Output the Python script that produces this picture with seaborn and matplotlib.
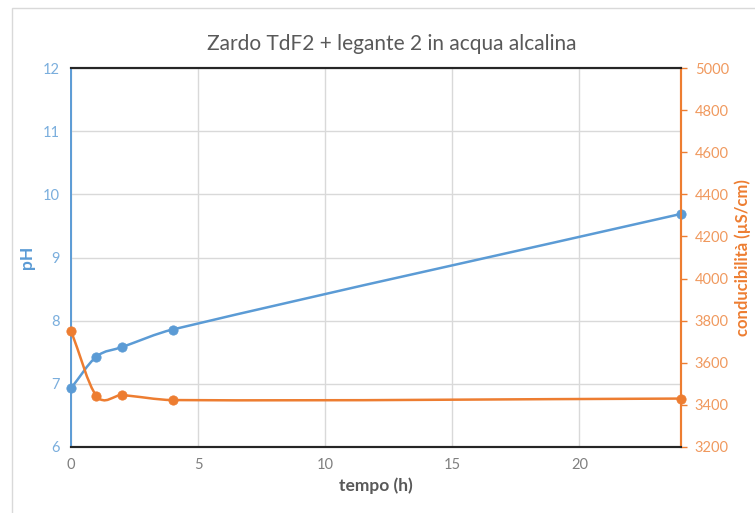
import matplotlib
matplotlib.use("Agg")
import matplotlib.pyplot as plt
import seaborn as sns
import numpy as np
from matplotlib.path import Path
from matplotlib.patches import PathPatch, Rectangle

sns.set_style("white")
plt.rcParams['font.family'] = ['Lato', 'DejaVu Sans']

# dati
tempo = [0, 1, 2, 4, 24]
ph = [6.93, 7.43, 7.58, 7.86, 9.69]
conducibilita = [3752, 3443, 3446, 3423, 3430]

blu = "#5B9BD5"
arancio = "#ED7D31"
grigio = "#595959"


def smooth_path(x, y):
    # linea smussata tipo Excel (Hermite cubica -> Bezier)
    x = np.asarray(x, float)
    y = np.asarray(y, float)
    n = len(x)
    m = np.zeros(n)
    m[0] = (y[1] - y[0]) / (x[1] - x[0])
    m[-1] = (y[-1] - y[-2]) / (x[-1] - x[-2])
    for i in range(1, n - 1):
        m[i] = (y[i + 1] - y[i - 1]) / (x[i + 1] - x[i - 1])
    verts = [(x[0], y[0])]
    codes = [Path.MOVETO]
    for i in range(n - 1):
        dx = x[i + 1] - x[i]
        verts += [(x[i] + dx / 3, y[i] + m[i] * dx / 3),
                  (x[i + 1] - dx / 3, y[i + 1] - m[i + 1] * dx / 3),
                  (x[i + 1], y[i + 1])]
        codes += [Path.CURVE4] * 3
    return Path(verts, codes)


fig = plt.figure(figsize=(7.55, 5.13), dpi=100)
fig.patches.append(Rectangle((12 / 755, -0.1), 1.2, 1 - 8 / 513 + 0.1,
                             transform=fig.transFigure, fill=False,
                             edgecolor="#D9D9D9", lw=1))
ax = fig.add_axes([71 / 755, 1 - 447 / 513, 610 / 755, 379 / 513])
ax2 = ax.twinx()

# pH
ax.add_patch(PathPatch(smooth_path(tempo, ph), fill=False, edgecolor=blu, lw=1.8,
                       capstyle="round", joinstyle="round", zorder=3))
sns.scatterplot(x=tempo, y=ph, ax=ax, color=blu, s=45, edgecolor=blu, zorder=4, clip_on=False)

# conducibilità
ax2.add_patch(PathPatch(smooth_path(tempo, conducibilita), fill=False, edgecolor=arancio, lw=1.8,
                        capstyle="round", joinstyle="round", zorder=3))
sns.scatterplot(x=tempo, y=conducibilita, ax=ax2, color=arancio, s=45, edgecolor=arancio,
                zorder=4, clip_on=False)

ax.set_xlim(0, 24)
ax.set_ylim(6, 12)
ax2.set_ylim(3200, 5000)
ax.set_xticks([0, 5, 10, 15, 20])
ax.set_yticks(range(6, 13))
ax2.set_yticks(range(3200, 5001, 200))

ax.grid(True, color="#D9D9D9", lw=1)
ax.set_axisbelow(True)

for a in (ax, ax2):
    a.spines["top"].set_color("#262626")
    a.spines["bottom"].set_color("#262626")
    a.spines["top"].set_linewidth(1.5)
    a.spines["bottom"].set_linewidth(1.5)
    a.spines["left"].set_color(blu)
    a.spines["right"].set_color(arancio)
    a.spines["left"].set_linewidth(1.2)
    a.spines["right"].set_linewidth(1.5)

ax.tick_params(axis="x", length=0, pad=8, labelsize=10.5, labelcolor="#7F7F7F")
ax.tick_params(axis="y", length=0, pad=8, labelsize=10.5, labelcolor="#7AAEDD")
ax2.tick_params(axis="y", length=4, width=1, color=arancio, direction="out",
                pad=6, labelsize=10.5, labelcolor="#F0995E")

ax.set_xlabel("tempo (h)", fontsize=12.5, fontweight="bold", color=grigio, labelpad=4)
ax.set_ylabel("pH", fontsize=12.5, fontweight="bold", color=blu, labelpad=6)
ax2.set_ylabel("conducibilità (µS/cm)", fontsize=12, fontweight="bold", color=arancio, labelpad=4)

fig.text(0.5 * (205 + 578) / 755, 1 - 44 / 513, "Zardo TdF2 + legante 2 in acqua alcalina",
         ha="center", va="center", fontsize=15, color=grigio)

plt.savefig("out.png", dpi=100)
plt.close()
